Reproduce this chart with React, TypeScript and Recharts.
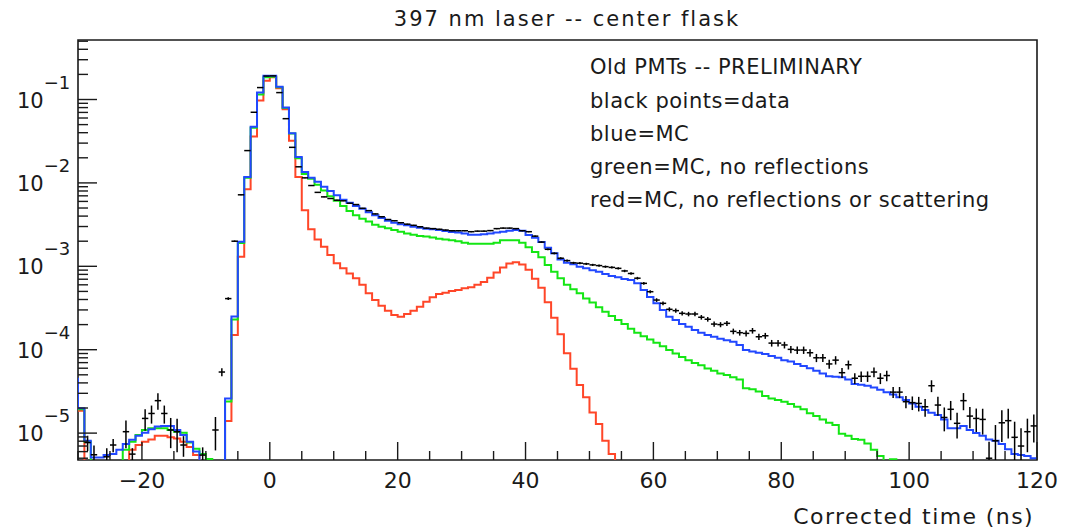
import React from 'react';
import { ComposedChart, Line, Scatter, XAxis, YAxis, ErrorBar, ReferenceArea } from 'recharts';

// Histogram bins are 1 ns wide; index 0 of every array is the bin starting at BIN_START.
const BIN_START = -30;

const BLUE_MC = [
  1.98e-5, 8.1e-6, 5.1e-6, 5.1e-6, 5.45e-6, 5.6e-6, 6.3e-6, 7.4e-6, 8.3e-6, 9.3e-6,
  1.01e-5, 1.11e-5, 1.2e-5, 1.22e-5, 1.22e-5, 1.09e-5, 9.5e-6, 7.9e-6, 6.0e-6, 0,
  0, 0, 0, 2.6e-5, 2.5e-4, 1.97e-3, 1.18e-2, 4.7e-2, 0.121, 0.193,
  0.193, 0.142, 0.08, 0.0393, 0.0205, 0.0135, 0.0115, 0.0103, 9.0e-3, 8.0e-3,
  7.1e-3, 6.3e-3, 5.8e-3, 5.3e-3, 4.9e-3, 4.45e-3, 4.1e-3, 3.8e-3, 3.52e-3, 3.33e-3,
  3.2e-3, 3.1e-3, 2.98e-3, 2.9e-3, 2.83e-3, 2.78e-3, 2.73e-3, 2.65e-3, 2.58e-3, 2.55e-3,
  2.48e-3, 2.39e-3, 2.39e-3, 2.43e-3, 2.48e-3, 2.55e-3, 2.6e-3, 2.67e-3, 2.73e-3, 2.67e-3,
  2.37e-3, 2.2e-3, 1.95e-3, 1.67e-3, 1.43e-3, 1.21e-3, 1.1e-3, 1.06e-3, 9.9e-4, 9.45e-4,
  9.0e-4, 8.6e-4, 8.1e-4, 7.65e-4, 7.4e-4, 7.05e-4, 6.85e-4, 6.25e-4, 5.2e-4, 4.3e-4,
  3.6e-4, 3.0e-4, 2.49e-4, 2.27e-4, 2.03e-4, 1.89e-4, 1.72e-4, 1.6e-4, 1.5e-4, 1.43e-4,
  1.35e-4, 1.3e-4, 1.25e-4, 1.14e-4, 9.9e-5, 9.5e-5, 9.2e-5, 8.9e-5, 8.4e-5, 8.0e-5,
  7.5e-5, 7.2e-5, 6.75e-5, 6.4e-5, 6.0e-5, 5.6e-5, 5.2e-5, 4.8e-5, 4.75e-5, 4.66e-5,
  4.4e-5, 3.87e-5, 3.8e-5, 3.7e-5, 3.53e-5, 3.3e-5, 3.1e-5, 2.9e-5, 2.7e-5, 2.5e-5,
  2.27e-5, 2.07e-5, 1.89e-5, 1.75e-5, 1.65e-5, 1.46e-5, 1.14e-5, 1.14e-5, 1.22e-5, 1.09e-5,
  1.0e-5, 9.3e-6, 8.4e-6, 8.1e-6, 7.4e-6, 6.4e-6, 5.6e-6, 5.45e-6, 5.3e-6, 5.0e-6,
];

const GREEN_MC = [
  1.93e-5, 7.9e-6, 0, 0, 0, 0, 0, 6.3e-6, 7.9e-6, 9.5e-6,
  1.09e-5, 1.14e-5, 1.14e-5, 1.14e-5, 1.09e-5, 1.04e-5, 1.01e-5, 7.7e-6, 6.5e-6, 5.6e-6,
  4.9e-6, 0, 0, 2.4e-5, 2.3e-4, 1.9e-3, 1.15e-2, 4.6e-2, 0.115, 0.185,
  0.188, 0.14, 0.079, 0.039, 0.0198, 0.0128, 0.0112, 9.5e-3, 8.1e-3, 6.9e-3,
  6.1e-3, 5.3e-3, 4.6e-3, 4.1e-3, 3.72e-3, 3.44e-3, 3.15e-3, 2.98e-3, 2.85e-3, 2.72e-3,
  2.6e-3, 2.48e-3, 2.39e-3, 2.31e-3, 2.27e-3, 2.22e-3, 2.14e-3, 2.1e-3, 2.05e-3, 2.0e-3,
  1.92e-3, 1.87e-3, 1.87e-3, 1.87e-3, 1.87e-3, 1.92e-3, 2.05e-3, 2.05e-3, 2.05e-3, 1.92e-3,
  1.69e-3, 1.48e-3, 1.28e-3, 1.04e-3, 8.6e-4, 7.2e-4, 6.0e-4, 5.3e-4, 4.75e-4, 4.1e-4,
  3.67e-4, 3.22e-4, 2.86e-4, 2.54e-4, 2.27e-4, 2.03e-4, 1.78e-4, 1.6e-4, 1.45e-4, 1.33e-4,
  1.21e-4, 1.1e-4, 9.9e-5, 9.0e-5, 8.2e-5, 7.5e-5, 6.95e-5, 6.5e-5, 5.95e-5, 5.6e-5,
  5.2e-5, 4.97e-5, 4.66e-5, 4.4e-5, 3.45e-5, 3.35e-5, 3.15e-5, 2.78e-5, 2.6e-5, 2.5e-5,
  2.38e-5, 2.23e-5, 2.07e-5, 1.93e-5, 1.73e-5, 1.6e-5, 1.46e-5, 1.33e-5, 1.25e-5, 9.8e-6,
  9.3e-6, 8.5e-6, 8.3e-6, 7.5e-6, 6.3e-6, 5.3e-6, 0, 4.85e-6, 0, 0,
  0, 0, 0, 0, 0, 0, 0, 0, 0, 0,
  0, 0, 0, 0, 0, 0, 0, 0, 0, 0,
];

const RED_MC = [
  1.86e-5, 0, 0, 0, 0, 0, 0, 0, 6.3e-6, 7.2e-6,
  7.9e-6, 8.4e-6, 9.3e-6, 9.3e-6, 8.9e-6, 8.6e-6, 7.9e-6, 6.8e-6, 5.45e-6, 0,
  0, 0, 0, 1.4e-5, 1.5e-4, 1.3e-3, 8.4e-3, 3.6e-2, 9.7e-2, 0.168,
  0.185, 0.136, 0.0763, 0.032, 0.0118, 4.7e-3, 2.78e-3, 2.1e-3, 1.72e-3, 1.37e-3,
  1.09e-3, 9.5e-4, 8.2e-4, 7.2e-4, 6.0e-4, 4.75e-4, 3.94e-4, 3.37e-4, 2.94e-4, 2.61e-4,
  2.49e-4, 2.68e-4, 2.94e-4, 3.28e-4, 3.77e-4, 4.25e-4, 4.66e-4, 4.83e-4, 5.06e-4, 5.2e-4,
  5.45e-4, 5.6e-4, 6.0e-4, 6.5e-4, 7.3e-4, 8.4e-4, 9.7e-4, 1.08e-3, 1.12e-3, 1.05e-3,
  9.1e-4, 7.1e-4, 5.55e-4, 3.7e-4, 2.42e-4, 1.53e-4, 9.05e-5, 5.9e-5, 3.78e-5, 2.69e-5,
  1.77e-5, 1.29e-5, 8.1e-6, 5.6e-6, 0, 0, 0, 0, 0, 0,
  0, 0, 0, 0, 0, 0, 0, 0, 0, 0,
  0, 0, 0, 0, 0, 0, 0, 0, 0, 0,
  0, 0, 0, 0, 0, 0, 0, 0, 0, 0,
  0, 0, 0, 0, 0, 0, 0, 0, 0, 0,
  0, 0, 0, 0, 0, 0, 0, 0, 0, 0,
  0, 0, 0, 0, 0, 0, 0, 0, 0, 0,
];

const DATA = [
  0, 7.7e-6, 5.5e-6, 0, 5.2e-6, 7.2e-6, 0, 1.04e-5, 5.6e-6, 0,
  1.5e-5, 1.72e-5, 2.45e-5, 1.72e-5, 1.09e-5, 1.04e-5, 7.2e-6, 0, 0, 5.45e-6,
  0, 1.09e-5, 5.4e-5, 4.1e-4, 2.0e-3, 7.2e-3, 0.0244, 0.0703, 0.139, 0.191,
  0.192, 0.121, 0.0589, 0.0267, 0.0156, 0.0115, 9.3e-3, 7.7e-3, 6.8e-3, 6.5e-3,
  6.2e-3, 6.1e-3, 5.7e-3, 5.5e-3, 4.96e-3, 4.65e-3, 4.25e-3, 3.93e-3, 3.64e-3, 3.52e-3,
  3.33e-3, 3.2e-3, 3.1e-3, 2.98e-3, 2.87e-3, 2.83e-3, 2.78e-3, 2.72e-3, 2.67e-3, 2.67e-3,
  2.67e-3, 2.6e-3, 2.64e-3, 2.64e-3, 2.68e-3, 2.83e-3, 2.87e-3, 2.87e-3, 2.83e-3, 2.67e-3,
  2.6e-3, 2.3e-3, 1.95e-3, 1.6e-3, 1.43e-3, 1.25e-3, 1.17e-3, 1.1e-3, 1.09e-3, 1.07e-3,
  1.04e-3, 1.02e-3, 9.9e-4, 9.7e-4, 9.45e-4, 8.8e-4, 8.2e-4, 7.2e-4, 6.25e-4, 4.96e-4,
  3.94e-4, 3.6e-4, 3.05e-4, 2.94e-4, 2.73e-4, 2.68e-4, 2.68e-4, 2.45e-4, 2.32e-4, 2.03e-4,
  2.0e-4, 2.07e-4, 1.66e-4, 1.6e-4, 1.57e-4, 1.69e-4, 1.43e-4, 1.47e-4, 1.2e-4, 1.2e-4,
  1.14e-4, 1.01e-4, 9.9e-5, 9.9e-5, 9.2e-5, 8.0e-5, 8.0e-5, 6.75e-5, 7.5e-5, 5.3e-5,
  6.6e-5, 4.55e-5, 4.8e-5, 4.8e-5, 5.4e-5, 4.55e-5, 4.9e-5, 3.1e-5, 3.1e-5, 2.38e-5,
  2.32e-5, 2.27e-5, 2.07e-5, 3.7e-5, 2.17e-5, 1.54e-5, 1.93e-5, 1.31e-5, 2.45e-5, 1.6e-5,
  1.5e-5, 1.46e-5, 5.0e-6, 8.1e-6, 1.33e-5, 1.41e-5, 8.9e-6, 7.0e-6, 1.04e-5, 1.22e-5,
];

const DATA_ERR = [
  0, 1.6e-6, 1.6e-6, 0, 1.4e-6, 1.3e-6, 0, 3.8e-6, 1.0e-6, 0,
  4.3e-6, 4.2e-6, 5.5e-6, 4.2e-6, 4.3e-6, 4.5e-6, 2.0e-6, 0, 0, 1.3e-6,
  0, 4.7e-6, 6e-6, 1.6e-5, 4e-5, 7e-5, 1.3e-4, 2.2e-4, 3e-4, 4e-4,
  4e-4, 3e-4, 2e-4, 1.4e-4, 1.1e-4, 9e-5, 8e-5, 7e-5, 6.5e-5, 6.4e-5,
  6.2e-5, 6.1e-5, 5.9e-5, 5.8e-5, 5.5e-5, 5.4e-5, 5.2e-5, 5e-5, 4.8e-5, 4.7e-5,
  4.6e-5, 4.5e-5, 4.5e-5, 4.4e-5, 4.3e-5, 4.3e-5, 4.2e-5, 4.2e-5, 4.1e-5, 4.1e-5,
  4.1e-5, 4.1e-5, 4.1e-5, 4.1e-5, 4.1e-5, 4.2e-5, 4.3e-5, 4.3e-5, 4.2e-5, 4.1e-5,
  4.1e-5, 4.8e-5, 4.4e-5, 4e-5, 3.8e-5, 3.5e-5, 3.4e-5, 3.3e-5, 3.3e-5, 3.3e-5,
  3.2e-5, 3.2e-5, 3.1e-5, 3.1e-5, 3.1e-5, 3.0e-5, 2.9e-5, 2.7e-5, 2.5e-5, 2.2e-5,
  2.0e-5, 1.9e-5, 1.75e-5, 1.7e-5, 1.65e-5, 1.65e-5, 1.65e-5, 1.55e-5, 1.5e-5, 1.45e-5,
  1.4e-5, 1.45e-5, 1.3e-5, 1.25e-5, 1.25e-5, 1.3e-5, 1.2e-5, 1.2e-5, 1.1e-5, 1.1e-5,
  1.05e-5, 1.0e-5, 1.0e-5, 1.0e-5, 9.5e-6, 9e-6, 9e-6, 8.2e-6, 8.6e-6, 7.3e-6,
  8.1e-6, 6.8e-6, 6.9e-6, 6.9e-6, 7.3e-6, 6.8e-6, 7e-6, 4.7e-6, 4.7e-6, 4.0e-6,
  4.3e-6, 4.5e-6, 5.0e-6, 6e-6, 5.5e-6, 4.9e-6, 5e-6, 4.5e-6, 5.7e-6, 4.6e-6,
  4.7e-6, 5e-6, 2.9e-6, 4.4e-6, 5.5e-6, 5.5e-6, 4.8e-6, 4.4e-6, 4.5e-6, 4.5e-6,
];

// Content of the bin just left of the drawn range (shows as a short vertical at the left frame).
const BLUE_UNDERFLOW = 4.5e-5;

const X_MAJOR = [-20, 0, 20, 40, 60, 80, 100, 120];
const Y_DECADES = [-5, -4, -3, -2, -1];
const TITLE = '397 nm laser -- center flask';
const X_TITLE = 'Corrected time (ns)';
const NOTES = [
  'Old PMTs -- PRELIMINARY',
  'black points=data',
  'blue=MC',
  'green=MC, no reflections',
  'red=MC, no reflections or scattering',
];

const X_MIN = -30;
const X_MAX = 120;
const Y_MIN = 4.76e-6;
const Y_MAX = 0.517;

const FONT = '"DejaVu Sans", "Liberation Sans", sans-serif';
const INK = '#1a1a1a';
const COL_BLUE = '#2248ff';
const COL_GREEN = '#14e614';
const COL_RED = '#ff4628';

const FLOOR = 1e-12;
const pos = (v: number) => (v > 0 ? v : FLOOR);

const histRows: Array<{ t: number; blue: number; green: number; red: number }> = [];
histRows.push({ t: BIN_START - 1, blue: BLUE_UNDERFLOW, green: pos(GREEN_MC[0]), red: pos(RED_MC[0]) });
BLUE_MC.forEach((b, i) => {
  histRows.push({ t: BIN_START + i, blue: pos(b), green: pos(GREEN_MC[i]), red: pos(RED_MC[i]) });
});
{
  const n = BLUE_MC.length - 1;
  histRows.push({ t: BIN_START + BLUE_MC.length, blue: pos(BLUE_MC[n]), green: pos(GREEN_MC[n]), red: pos(RED_MC[n]) });
}

const dataPoints = DATA.map((v, i) => ({
  t: BIN_START + i + 0.5,
  v,
  ex: 0.5,
  ey: [Math.min(DATA_ERR[i], v - Y_MIN), DATA_ERR[i]],
})).filter((p) => p.v > 0);

const X_TICKS: number[] = [];
for (let t = X_MIN; t <= X_MAX; t += 5) X_TICKS.push(t);

const Y_TICKS: number[] = [];
for (let e = -6; e <= 0; e++) {
  for (let m = 1; m <= 9; m++) {
    const v = m * Math.pow(10, e);
    if (v >= Y_MIN && v <= Y_MAX) Y_TICKS.push(v);
  }
}

const fmtX = (v: number) => (v < 0 ? '\u2212' + Math.abs(v) : String(v));

const XTick = (props: any) => {
  const { x, y, payload } = props;
  const v = payload.value as number;
  const major = X_MAJOR.includes(v);
  return (
    <g>
      <line x1={x} x2={x} y1={y} y2={y - (major ? 18 : 9)} stroke={INK} strokeWidth={1.4} />
      {major && (
        <text x={x} y={y + 28} textAnchor="middle" fontSize={22} fontFamily={FONT} fill={INK}>
          {fmtX(v)}
        </text>
      )}
    </g>
  );
};

const YTick = (props: any) => {
  const { x, y, payload } = props;
  const v = payload.value as number;
  const lg = Math.log10(v);
  const e = Math.round(lg);
  const major = Math.abs(lg - e) < 1e-6 && Y_DECADES.includes(e);
  return (
    <g>
      <line x1={x} x2={x + (major ? 19 : 10)} y1={y} y2={y} stroke={INK} strokeWidth={1.4} />
      {major && (
        <text x={x - 61} y={y + 8} fontSize={21} fontFamily={FONT} fill={INK}>
          10
          <tspan dy={-19} fontSize={18}>
            {'\u2212' + Math.abs(e)}
          </tspan>
        </text>
      )}
    </g>
  );
};

const NoShape = () => <g />;

export default function App() {
  return (
    <div style={{ position: 'absolute', left: 0, top: 0, width: 1073, height: 529, background: '#fff' }}>
      <ComposedChart
        width={1073}
        height={529}
        data={histRows}
        margin={{ top: 40, right: 36, bottom: 29, left: 8 }}
      >
        <XAxis
          dataKey="t"
          type="number"
          domain={[X_MIN, X_MAX]}
          allowDataOverflow
          ticks={X_TICKS}
          interval={0}
          tickSize={0}
          tickMargin={0}
          tickLine={false}
          axisLine={false}
          height={40}
          tick={XTick}
        />
        <YAxis
          type="number"
          scale="log"
          domain={[Y_MIN, Y_MAX]}
          allowDataOverflow
          ticks={Y_TICKS}
          interval={0}
          tickSize={0}
          tickMargin={0}
          tickLine={false}
          axisLine={false}
          width={70}
          tick={YTick}
        />
        <Line type="stepAfter" dataKey="red" stroke={COL_RED} strokeWidth={2} dot={false} activeDot={false} isAnimationActive={false} strokeLinejoin="miter" />
        <Line type="stepAfter" dataKey="green" stroke={COL_GREEN} strokeWidth={2} dot={false} activeDot={false} isAnimationActive={false} strokeLinejoin="miter" />
        <Line type="stepAfter" dataKey="blue" stroke={COL_BLUE} strokeWidth={2} dot={false} activeDot={false} isAnimationActive={false} strokeLinejoin="miter" />
        <Scatter data={dataPoints} dataKey="v" shape={NoShape} isAnimationActive={false}>
          <ErrorBar dataKey="ex" direction="x" width={0} stroke="#000" strokeWidth={1.5} />
          <ErrorBar dataKey="ey" direction="y" width={0} stroke="#000" strokeWidth={1.5} />
        </Scatter>
        <ReferenceArea x1={X_MIN} x2={X_MAX} y1={Y_MIN} y2={Y_MAX} fill="none" fillOpacity={0} stroke={INK} strokeWidth={1.6} ifOverflow="visible" />
      </ComposedChart>
      <svg width={1073} height={529} style={{ position: 'absolute', left: 0, top: 0, pointerEvents: 'none' }}>
        <text x={567} y={26} textAnchor="middle" fontSize={21} letterSpacing={2} fontFamily={FONT} fill={INK}>
          {TITLE}
        </text>
        <text x={1034} y={524} textAnchor="end" fontSize={22} letterSpacing={1.4} fontFamily={FONT} fill={INK}>
          {X_TITLE}
        </text>
        {NOTES.map((s, i) => (
          <text key={s} x={590} y={[74, 108, 141, 174, 207][i]} fontSize={21} letterSpacing={0.5} fontFamily={FONT} fill={INK}>
            {s}
          </text>
        ))}
      </svg>
    </div>
  );
}
